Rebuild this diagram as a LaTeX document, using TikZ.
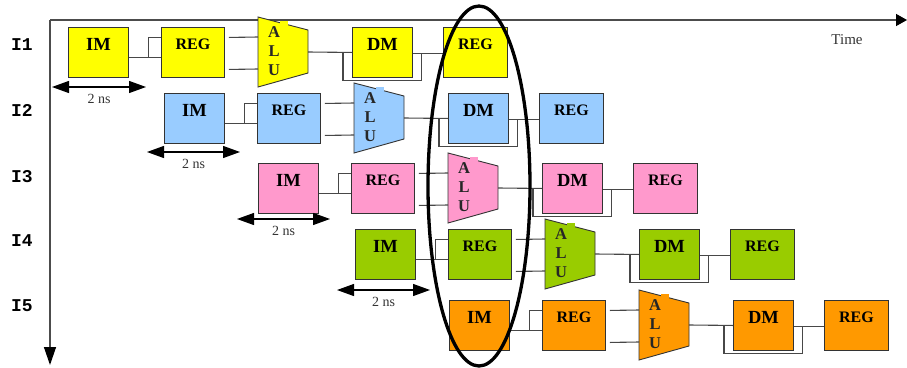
\documentclass[tikz,border=0pt]{standalone}
\usepackage{fontspec}
\setmainfont{Liberation Serif}
\newfontfamily\rowfont{Liberation Mono}
\usetikzlibrary{arrows.meta,shapes.geometric,calc}
\definecolor{cyel}{HTML}{FFFF00}
\definecolor{cblu}{HTML}{99CCFF}
\definecolor{cpnk}{HTML}{FF99CC}
\definecolor{cgrn}{HTML}{99CC00}
\definecolor{corg}{HTML}{FF9900}
\begin{document}
\begin{tikzpicture}[x=1pt,y=-1pt,
  box/.style={draw=black!80, line width=0.9pt, anchor=north west, inner sep=0pt, minimum height=50pt},
  bigtxt/.style={font=\fontsize{18.5}{20}\selectfont\bfseries, text height=13pt, text depth=16pt},
  regtxt/.style={font=\fontsize{16}{18}\selectfont\bfseries, text height=12pt, text depth=18.4pt},
  wire/.style={draw=black!72, line width=1.1pt},
  alushape/.style={draw=black!80, line width=0.9pt},
  alutxt/.style={font=\fontsize{16.5}{19}\selectfont\bfseries, align=center, inner sep=0pt, text=black!85},
  dimarrow/.style={line width=1.2pt, {Triangle[length=17pt,width=12pt]}-{Triangle[length=17pt,width=12pt]}},
  nslab/.style={font=\fontsize{14}{16}\selectfont, text=black!80, inner sep=0pt},
  rowlab/.style={font=\rowfont\bfseries\fontsize{18}{20}\selectfont, inner sep=0pt},
  axis/.style={draw=black!70, line width=1.3pt},
  ]
\useasboundingbox (0,0) rectangle (907,367);

% axes
\coordinate (O) at (50,20);
\coordinate (tx) at (907,20);
\coordinate (ty) at (50,365);
\draw[axis, -{Triangle[length=11pt,width=12pt,color=black]}] (O) -- (tx);
\draw[axis, -{Triangle[length=18pt,width=12pt,color=black]}] (O) -- (ty);
\node[font=\fontsize{15}{17}\selectfont, text=black!80, inner sep=0pt] (time) at (847,40) {Time};

% row labels
\node[rowlab] (L1) at (22,45) {I1};
\node[rowlab] (L2) at (22,110) {I2};
\node[rowlab] (L3) at (22,177) {I3};
\node[rowlab] (L4) at (22,241) {I4};
\node[rowlab] (L5) at (22,306) {I5};

% pipeline rows
\foreach \n/\x/\y/\c in {1/68/27/cyel, 2/164/93/cblu, 3/258/163/cpnk, 4/355/229/cgrn, 5/449/300/corg}{
  \node[box, bigtxt, fill=\c, minimum width=60pt] (im\n) at (\x,\y) {IM};
  \node[box, regtxt, fill=\c, minimum width=63pt] (rg\n) at (\x+93,\y) {REG};
  \node[box, bigtxt, fill=\c, minimum width=60pt] (dm\n) at (\x+284,\y) {DM};
  \node[box, regtxt, fill=\c, minimum width=64pt] (wb\n) at (\x+375,\y) {REG};
  % ALU
  \coordinate (alu\n a) at (\x+190,\y-10);
  \coordinate (alu\n b) at (\x+240,\y+3);
  \coordinate (alu\n c) at (\x+240,\y+46);
  \coordinate (alu\n d) at (\x+190,\y+60);
  \coordinate (alu\n i1) at (\x+190,\y+10);
  \coordinate (alu\n i2) at (\x+190,\y+42);
  \coordinate (alu\n o) at (\x+240,\y+25);
  \draw[alushape, fill=\c] (alu\n a) -- (alu\n b) -- (alu\n c) -- (alu\n d) -- cycle;
  \fill[\c] (\x+212,\y-6) rectangle (\x+220,\y-1);
  \node[alutxt] (alu\n) at (\x+206,\y+24.5) {A\\L\\U};
  % connectors
  \draw[wire] ([yshift=-5pt]im\n.east) -- ([yshift=-5pt]rg\n.west);
  \draw[wire] ([xshift=20pt,yshift=-5pt]im\n.east) |- ([yshift=15pt]rg\n.west);
  \draw[wire] ([xshift=4pt,yshift=15pt]rg\n.east) -- (alu\n i1);
  \draw[wire] ([xshift=4pt,yshift=-17pt]rg\n.east) -- (alu\n i2);
  \draw[wire] (alu\n o) -- (dm\n.west);
  \draw[wire] ([xshift=-9pt]dm\n.west) |- ([xshift=9pt,yshift=-28pt]dm\n.east) -- ([xshift=9pt,yshift=-1pt]dm\n.east);
  \draw[wire] ([yshift=-1pt]dm\n.east) -- ([yshift=-1pt]wb\n.west);
}

% 2 ns dimension arrows
\foreach \n/\a/\b/\y in {1/52/146/87, 2/147/240/152, 3/237/330/219, 4/337/430/290}{
  \coordinate (ns\n l) at (\a,\y);
  \coordinate (ns\n r) at (\b,\y);
  \draw[dimarrow] (ns\n l) -- (ns\n r);
  \node[nslab] (nst\n) at ({(\a+\b)/2},\y+12) {2 ns};
}

% highlight ellipse
\node[draw=black, line width=3.3pt, ellipse, minimum width=102pt, minimum height=360pt, inner sep=0pt] (hl) at (479,186) {};
\end{tikzpicture}
\end{document}
